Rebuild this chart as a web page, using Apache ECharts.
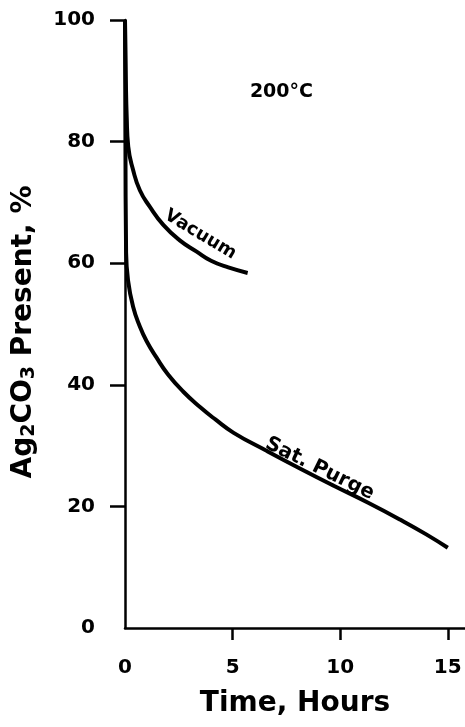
<!DOCTYPE html>
<html><head><meta charset="utf-8">
<script src="https://cdn.jsdelivr.net/npm/echarts@6/dist/echarts.min.js"></script>
<style>html,body{margin:0;padding:0;background:#fff}#c{width:465px;height:727px}</style>
</head><body><div id="c"></div>
<script>
// ---- data ----
const vacuumTime  = [0, 0.04, 0.08, 0.15, 0.38, 0.69, 1.15, 1.78, 2.53, 3.33, 4.0, 4.8, 5.7];
const vacuumValue = [100, 90, 84, 79.2, 75.3, 72.0, 69.3, 66.3, 63.8, 61.9, 60.4, 59.3, 58.4];
const purgeTime   = [0, 0.02, 0.05, 0.14, 0.38, 0.69, 1.0, 1.46, 2.0, 2.7, 3.5, 4.2, 5.05, 6.6, 8.15, 9.7, 11.3, 12.8, 14.0, 15.0];
const purgeValue  = [100, 80, 62, 57.2, 52.8, 49.6, 47.2, 44.5, 41.7, 38.9, 36.3, 34.3, 32.1, 29.1, 26.2, 23.4, 20.6, 17.8, 15.4, 13.2];
const xTickLabels = [0, 5, 10, 15];
const yTickLabels = [0, 20, 40, 60, 80, 100];

const zip = (a, b) => a.map((v, i) => [v, b[i]]);
const font = '"DejaVu Sans", sans-serif';
const lbl = (text, coord, size, rot) => ({
  coord: coord,
  label: { show: true, formatter: text, rotate: rot, color: '#000', fontFamily: font,
           fontSize: size, fontWeight: 'bold', position: 'inside' }
});

const chart = echarts.init(document.getElementById('c'));
chart.setOption({
  backgroundColor: '#fff',
  animation: false,
  grid: { left: 125, right: 0, top: 20, bottom: 99 },
  xAxis: {
    type: 'value', min: 0, max: 15.8,
    splitLine: { show: false },
    axisLine: { onZero: false, lineStyle: { color: '#000', width: 2.5 } },
    axisTick: { customValues: [5, 10, 15], length: 12, lineStyle: { color: '#000', width: 2.5 } },
    axisLabel: { customValues: xTickLabels, color: '#000', fontFamily: font, fontSize: 20, fontWeight: 'bold', margin: 30 },
    name: 'Time, Hours', nameLocation: 'middle', nameGap: 62,
    nameTextStyle: { color: '#000', fontFamily: font, fontSize: 28, fontWeight: 'bold' }
  },
  yAxis: {
    type: 'value', min: 0, max: 100,
    splitLine: { show: false },
    axisLine: { onZero: false, lineStyle: { color: '#000', width: 2.5 } },
    axisTick: { customValues: [20, 40, 60, 80, 100], length: 15, lineStyle: { color: '#000', width: 2.5 } },
    axisLabel: { customValues: yTickLabels, color: '#000', fontFamily: font, fontSize: 20, fontWeight: 'bold', margin: 30 },
    name: 'Ag{s|2}CO{s|3} Present, %', nameLocation: 'middle', nameGap: 86, nameRotate: 90,
    nameTextStyle: {
      color: '#000', fontFamily: font, fontSize: 28, fontWeight: 'bold', padding: [0, 16, 0, 0],
      rich: { s: { fontFamily: font, fontSize: 19, fontWeight: 'bold', color: '#000', padding: [12, 0, 0, 0] } }
    }
  },
  series: [
    {
      type: 'line', name: 'Vacuum', data: zip(vacuumTime, vacuumValue),
      smooth: 0.5, showSymbol: false, lineStyle: { color: '#000', width: 4 },
      markPoint: { symbol: 'circle', symbolSize: 0, silent: true,
        data: [lbl('Vacuum', [3.5, 64.7], 18, -31)] }
    },
    {
      type: 'line', name: 'Sat. Purge', data: zip(purgeTime, purgeValue),
      smooth: 0.5, showSymbol: false, lineStyle: { color: '#000', width: 4 },
      markPoint: { symbol: 'circle', symbolSize: 0, silent: true,
        data: [lbl('Sat. Purge', [9.05, 26.2], 20, -26), lbl('200°C', [7.27, 88.2], 19, 0)] }
    }
  ]
});
</script></body></html>
